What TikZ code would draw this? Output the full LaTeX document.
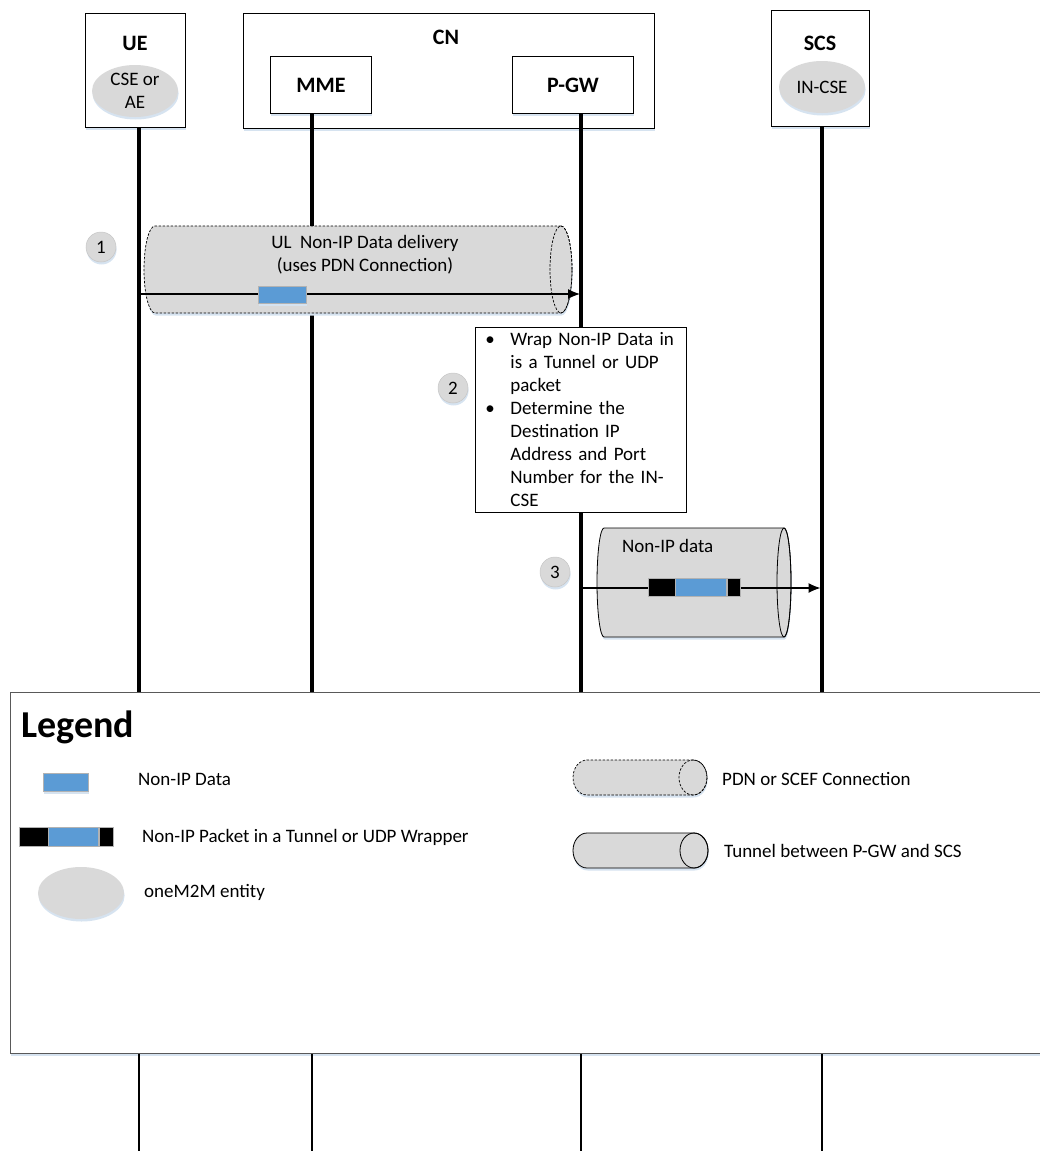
\documentclass[tikz,border=0pt]{standalone}
\usepackage{fontspec}
\setmainfont{Carlito}
\usetikzlibrary{arrows.meta,shadows,shapes.geometric}

\definecolor{entgray}{RGB}{217,217,217}
\definecolor{datablue}{RGB}{91,155,213}
\definecolor{shadowblue}{RGB}{214,227,240}

% horizontal pipe: body style, rim style, left, right, top, bottom, end radius
\newcommand{\drawpipe}[7]{%
  \pgfmathsetmacro{\pipeL}{#3+#7}%
  \pgfmathsetmacro{\pipeR}{#4-#7}%
  \pgfmathsetmacro{\pipeRY}{(#5-#6)/2}%
  \pgfmathsetmacro{\pipeM}{(#5+#6)/2}%
  \path[#1] (\pipeR,#5) -- (\pipeL,#5)
    arc[start angle=90,end angle=270,x radius=#7,y radius=\pipeRY]
    -- (\pipeR,#6)
    arc[start angle=-90,end angle=90,x radius=#7,y radius=\pipeRY] -- cycle;
  \path[#2] (\pipeR,\pipeM) ellipse[x radius=#7,y radius=\pipeRY];
}

\tikzset{
  softshadow/.style={drop shadow={shadow xshift=0.6pt,shadow yshift=-2.5pt,fill=shadowblue,opacity=1}},
  frame/.style={draw=black,line width=0.9pt,fill=white,inner sep=0pt},
  head/.style={font=\fontsize{22}{26}\selectfont\bfseries,inner sep=0pt},
  entity/.style={ellipse,fill=entgray,draw=none,inner sep=0pt,minimum width=86pt,minimum height=52pt,align=center,softshadow},
  lifeline/.style={line width=3.2pt},
  lifelinelow/.style={line width=2.6pt},
  msg/.style={line width=1.2pt,-{Latex[length=12pt,width=10pt]}},
  stepnum/.style={circle,fill=entgray,draw=gray!45,line width=0.5pt,minimum size=30pt,inner sep=0pt,softshadow},
  datablk/.style={rectangle,fill=datablue,draw=gray!60,line width=0.4pt,inner sep=0pt},
  wrapblk/.style={rectangle,fill=black,draw=gray!60,line width=0.4pt,inner sep=0pt},
  pdnbody/.style={draw=black,line width=0.7pt,dash pattern=on 2.5pt off 1.5pt,fill=entgray,softshadow},
  pdnrim/.style={draw=black,line width=0.7pt,dash pattern=on 2.5pt off 1.5pt},
  tunbody/.style={draw=black,line width=0.8pt,fill=entgray,softshadow},
  tunrim/.style={draw=black,line width=0.8pt},
  lbl/.style={inner sep=0pt,anchor=west},
  notebox/.style={draw=black,line width=0.8pt,fill=white,align=left,inner xsep=10pt,inner ysep=2pt},
}

\begin{document}
\begin{tikzpicture}[x=1pt,y=1pt,font=\fontsize{19}{23}\selectfont]
\useasboundingbox (0,0) rectangle (1040,-1151);
\coordinate (floor) at (0,-1151);

% legend panel (drawn first so the lifelines stop at its edges)
\node[draw=black!65,line width=1pt,fill=white,softshadow,inner sep=0pt,
      minimum width=1060pt,minimum height=361pt,anchor=north west] (legend) at (10,-692) {};

% header boxes
\node[frame,softshadow,minimum width=100pt,minimum height=114pt,anchor=north west] (uebox) at (85,-13) {};
\node[head] (uelbl) at (135,-43) {UE};
\node[entity] (ueent) at (135,-91) {CSE or\\AE};

\node[frame,softshadow,minimum width=411pt,minimum height=115pt,anchor=north west] (cnbox) at (243,-13) {};
\node[head] (cnlbl) at (446,-37) {CN};
\node[frame,head,softshadow,minimum width=101pt,minimum height=57pt,anchor=north west] (mme) at (270,-56) {MME};
\node[frame,head,softshadow,minimum width=121pt,minimum height=57pt,anchor=north west] (pgw) at (512,-56) {P-GW};

\node[frame,softshadow,minimum width=98pt,minimum height=116pt,anchor=north west] (scsbox) at (771,-10) {};
\node[head] (scslbl) at (820,-43) {SCS};
\node[entity] (scsent) at (822,-87) {IN-CSE};

% lifelines
\coordinate (ueX) at (139,-127);
\coordinate (mmeX) at (312,-113);
\coordinate (pgwX) at (581,-113);
\coordinate (scsX) at (822,-126);
\foreach \c in {ueX,mmeX,pgwX,scsX}{
  \draw[lifeline] (\c) -- (\c |- legend.north);
  \draw[lifelinelow] (\c |- legend.south) -- (\c |- floor);
}

% step 1: PDN connection pipe with uplink data
\drawpipe{pdnbody}{pdnrim}{144}{572}{-226}{-313}{11}
\node (ultext) at (365,-255) [align=center,inner sep=0pt] {UL~~Non-IP Data delivery\\(uses PDN Connection)};
\coordinate (m1from) at (139,-294);
\coordinate (m1to) at (580,-294);
\draw[msg] (m1from) -- (m1to);
\node[datablk,softshadow,minimum width=48pt,minimum height=17pt] (data1) at (282,-294.5) {};
\node[stepnum] (s1) at (101,-247) {1};

% step 2: processing in the P-GW
\node[notebox,anchor=north west,text width=191pt,minimum height=185pt] (note) at (475,-327)
  {\makebox[25pt][l]{\textbullet}Wrap Non-IP Data in\\
   \hspace*{25pt}is a Tunnel or UDP\\
   \hspace*{25pt}packet\\
   \makebox[25pt][l]{\textbullet}Determine the\\
   \hspace*{25pt}Destination IP\\
   \hspace*{25pt}Address and Port\\
   \hspace*{25pt}Number for the IN-\\
   \hspace*{25pt}CSE};
\node[stepnum] (s2) at (453,-388) {2};

% step 3: tunnel towards the SCS
\drawpipe{tunbody}{tunrim}{597}{791}{-528}{-637}{7}
\node[lbl] (nonip) at (622,-546) {Non-IP data};
\coordinate (m3from) at (581,-588);
\coordinate (m3to) at (820.5,-588);
\draw[msg] (m3from) -- (m3to);
\node[wrapblk,minimum width=27pt,minimum height=18pt,anchor=west] (p3a) at (648,-587) {};
\node[datablk,minimum width=51pt,minimum height=18pt,anchor=west] (p3b) at (p3a.east) {};
\node[wrapblk,minimum width=13pt,minimum height=18pt,anchor=west] (p3c) at (p3b.east) {};
\node[stepnum] (s3) at (555,-572) {3};

% legend content
\node[lbl,font=\fontsize{38}{45}\selectfont\bfseries] (legtitle) at (21,-727) {Legend};

\node[datablk,softshadow,minimum width=45pt,minimum height=18pt] (legdata) at (65.5,-782) {};
\node[lbl] (legdatatxt) at (138,-779) {Non-IP Data};

\node[wrapblk,minimum width=29pt,minimum height=19pt,anchor=west] (lpa) at (19,-836.5) {};
\node[datablk,minimum width=50pt,minimum height=19pt,anchor=west] (lpb) at (lpa.east) {};
\node[wrapblk,minimum width=14pt,minimum height=19pt,anchor=west] (lpc) at (lpb.east) {};
\node[lbl] (legpkttxt) at (142,-837) {Non-IP Packet in a Tunnel or UDP Wrapper};

\node[entity] (legent) at (81,-893) {};
\node[lbl] (legenttxt) at (144,-892) {oneM2M entity};

\drawpipe{pdnbody}{pdnrim}{573}{707}{-760}{-795}{14}
\node[lbl] (legpdntxt) at (722,-779) {PDN or SCEF Connection};

\drawpipe{tunbody}{tunrim}{573}{708}{-833}{-868}{14}
\node[lbl] (legtuntxt) at (724,-851) {Tunnel between P-GW and SCS};
\end{tikzpicture}
\end{document}
